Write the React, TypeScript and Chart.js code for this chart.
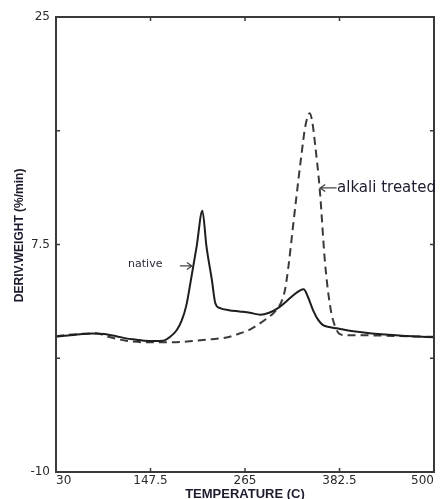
import React, { useEffect, useRef } from "react";
import { Chart, registerables } from "chart.js";

Chart.register(...registerables);

// ---- data ----
const nativeT = [30, 45, 60, 75, 90, 105, 117, 130, 140, 152, 163, 172, 180, 186, 192, 197, 205, 212, 217, 224, 228, 234, 245, 258, 271, 284, 295, 306, 316, 325, 333, 338, 343, 350, 356, 362, 370, 379, 390, 405, 420, 440, 460, 480, 500];
const nativeV = [0.42, 0.5, 0.6, 0.66, 0.62, 0.45, 0.28, 0.18, 0.1, 0.08, 0.1, 0.4, 0.9, 1.6, 2.8, 4.5, 7.4, 10.1, 7.4, 4.7, 3.0, 2.6, 2.45, 2.35, 2.25, 2.1, 2.25, 2.6, 3.1, 3.6, 3.95, 4.05, 3.5, 2.4, 1.7, 1.3, 1.15, 1.05, 0.92, 0.78, 0.67, 0.57, 0.48, 0.42, 0.36];

const alkaliT = [30, 45, 60, 80, 95, 117, 140, 166, 185, 200, 220, 242, 258, 271, 284, 294, 300, 306, 311, 315, 319, 324, 329, 335, 340, 345.5, 349, 352, 358, 364.5, 371, 377, 383, 392, 410, 430, 450, 475, 500];
const alkaliV = [0.45, 0.55, 0.62, 0.67, 0.4, 0.1, -0.02, -0.02, 0.0, 0.08, 0.2, 0.35, 0.65, 0.95, 1.45, 1.9, 2.2, 2.6, 3.2, 4.1, 5.8, 8.5, 11.2, 14.3, 16.6, 17.6, 16.8, 15.3, 11.7, 6.1, 2.7, 1.2, 0.6, 0.52, 0.52, 0.5, 0.47, 0.43, 0.4];

const xTicks = [30, 147.5, 265, 382.5, 500];
const xTickLabels = ["30", "147.5", "265", "382.5", "500"];
const yTicks = [-10, -1.25, 7.5, 16.25, 25];
const yTickLabels = ["-10", "", "7.5", "", "25"];

const xTitle = "TEMPERATURE (C)";
const yTitle = "DERIV.WEIGHT (%/min)";
// y title centre, in data units of the y axis
const yTitleCenter = 8.2;

// annotations in data coordinates
const nativeLabel = { text: "native", x: 141, y: 6.0, arrowFrom: 184, arrowTo: 199, arrowY: 5.85 };
const alkaliLabel = { text: "alkali treated", x: 379.5, y: 11.85, arrowFrom: 379, arrowTo: 358.5, arrowY: 11.85 };

const FONT = "'Liberation Sans', Arial, sans-serif";
const TICKFONT = "'DejaVu Sans', Verdana, sans-serif";

const framePlugin = {
  id: "framePlugin",
  afterDatasetsDraw(chart: any) {
    const { ctx, chartArea: a, scales } = chart;
    const xs = scales.x;
    const ys = scales.y;
    ctx.save();
    ctx.strokeStyle = "#3a3a3a";
    ctx.lineWidth = 2;
    ctx.strokeRect(a.left, a.top, a.right - a.left, a.bottom - a.top);
    ctx.lineWidth = 1.5;
    const tl = 4;
    ctx.beginPath();
    xTicks.slice(1, -1).forEach((v) => {
      const px = xs.getPixelForValue(v);
      ctx.moveTo(px, a.bottom);
      ctx.lineTo(px, a.bottom - tl);
      ctx.moveTo(px, a.top);
      ctx.lineTo(px, a.top + tl);
    });
    yTicks.slice(1, -1).forEach((v) => {
      const py = ys.getPixelForValue(v);
      ctx.moveTo(a.left, py);
      ctx.lineTo(a.left + tl, py);
      ctx.moveTo(a.right, py);
      ctx.lineTo(a.right - tl, py);
    });
    ctx.stroke();

    // annotations
    const drawArrow = (fromX: number, toX: number, y: number) => {
      const x1 = xs.getPixelForValue(fromX);
      const x2 = xs.getPixelForValue(toX);
      const py = ys.getPixelForValue(y);
      const dir = x2 > x1 ? 1 : -1;
      ctx.strokeStyle = "#444";
      ctx.lineWidth = 1.3;
      ctx.beginPath();
      ctx.moveTo(x1, py);
      ctx.lineTo(x2, py);
      ctx.moveTo(x2 - dir * 5, py - 3.5);
      ctx.lineTo(x2, py);
      ctx.lineTo(x2 - dir * 5, py + 3.5);
      ctx.stroke();
    };
    drawArrow(nativeLabel.arrowFrom, nativeLabel.arrowTo, nativeLabel.arrowY);
    drawArrow(alkaliLabel.arrowFrom, alkaliLabel.arrowTo, alkaliLabel.arrowY);

    ctx.fillStyle = "#2a2a3a";
    ctx.textBaseline = "middle";
    ctx.textAlign = "center";
    ctx.font = `11px ${TICKFONT}`;
    ctx.fillText(nativeLabel.text, xs.getPixelForValue(nativeLabel.x), ys.getPixelForValue(nativeLabel.y));
    ctx.textAlign = "left";
    ctx.font = `15px ${TICKFONT}`;
    ctx.fillStyle = "#1c1c2e";
    ctx.fillText(alkaliLabel.text, xs.getPixelForValue(alkaliLabel.x), ys.getPixelForValue(alkaliLabel.y));

    // y axis title
    ctx.save();
    ctx.translate(19.5, ys.getPixelForValue(yTitleCenter));
    ctx.rotate(-Math.PI / 2);
    ctx.textAlign = "center";
    ctx.textBaseline = "middle";
    ctx.font = `bold 12px ${FONT}`;
    ctx.fillStyle = "#1c1c2e";
    ctx.fillText(yTitle, 0, 0);
    ctx.restore();

    ctx.restore();
  },
};

export default function App() {
  const ref = useRef<HTMLCanvasElement | null>(null);
  useEffect(() => {
    if (!ref.current) return;
    const chart = new Chart(ref.current, {
      type: "line",
      data: {
        datasets: [
          {
            label: "native",
            data: nativeT.map((t, i) => ({ x: t, y: nativeV[i] })),
            borderColor: "#1e1e1e",
            borderWidth: 2,
            pointRadius: 0,
            cubicInterpolationMode: "monotone",
            fill: false,
          },
          {
            label: "alkali treated",
            data: alkaliT.map((t, i) => ({ x: t, y: alkaliV[i] })),
            borderColor: "#3a3a3a",
            borderWidth: 2,
            borderDash: [8, 5],
            pointRadius: 0,
            cubicInterpolationMode: "monotone",
            fill: false,
          },
        ],
      },
      options: {
        responsive: false,
        animation: false,
        layout: { padding: { top: 17, right: 7, left: 0, bottom: 0 } },
        plugins: { legend: { display: false }, tooltip: { enabled: false } },
        scales: {
          x: {
            type: "linear",
            min: 30,
            max: 500,
            grid: { display: false, drawTicks: false },
            border: { display: false },
            afterBuildTicks: (s: any) => {
              s.ticks = xTicks.map((v) => ({ value: v }));
            },
            afterFit: (s: any) => {
              s.height = 27;
            },
            ticks: {
              autoSkip: false,
              maxRotation: 0,
              align: "inner",
              padding: 2,
              color: "#2a2a2a",
              font: { family: TICKFONT, size: 12 },
              callback: (v: any) => {
                const i = xTicks.indexOf(Number(v));
                return i >= 0 ? xTickLabels[i] : "";
              },
            },
            title: {
              display: true,
              text: xTitle,
              color: "#1c1c2e",
              font: { family: FONT, size: 13, weight: "bold" },
              padding: { top: 0, bottom: -3 },
            },
          },
          y: {
            type: "linear",
            min: -10,
            max: 25,
            grid: { display: false, drawTicks: false },
            border: { display: false },
            afterBuildTicks: (s: any) => {
              s.ticks = yTicks.map((v) => ({ value: v }));
            },
            afterFit: (s: any) => {
              s.width = 56;
            },
            ticks: {
              autoSkip: false,
              padding: 6,
              color: "#2a2a2a",
              font: { family: TICKFONT, size: 12 },
              callback: (v: any) => {
                const i = yTicks.indexOf(Number(v));
                return i >= 0 ? yTickLabels[i] : "";
              },
            },
            title: { display: false },
          },
        },
      },
      plugins: [framePlugin],
    } as any);
    return () => chart.destroy();
  }, []);
  return (
    <div style={{ position: "absolute", left: 0, top: 0, width: 441, height: 499, background: "#fff" }}>
      <canvas ref={ref} width={441} height={499} style={{ display: "block" }} />
    </div>
  );
}
